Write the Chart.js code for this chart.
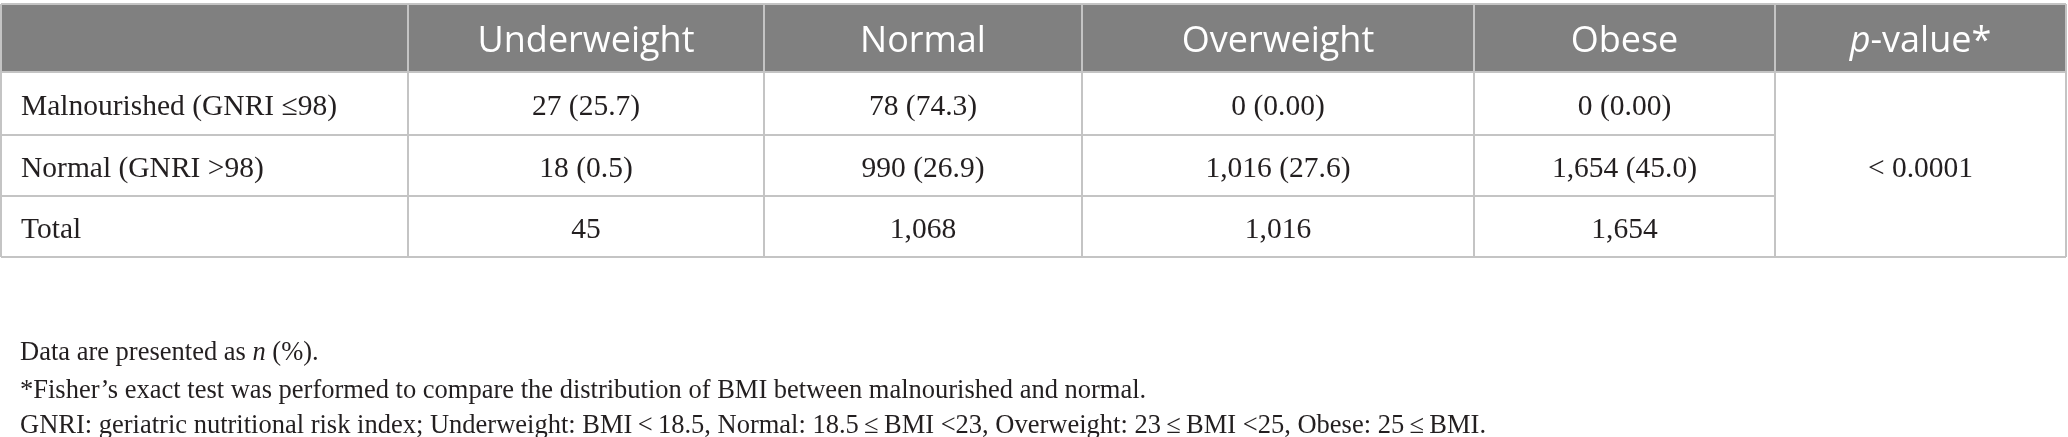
<!DOCTYPE html>
<html>
<head>
<meta charset="utf-8">
<script src="https://cdn.jsdelivr.net/npm/chart.js@4.4.1/dist/chart.umd.min.js"></script>
<style>
  html, body { margin: 0; padding: 0; background: #fff; }
  #table-chart { display: block; }
</style>
</head>
<body>
<canvas id="table-chart" width="2068" height="437"></canvas>
<script>
// table content
const bmiGroups = ['Underweight', 'Normal', 'Overweight', 'Obese'];
const rowLabels = ['Malnourished (GNRI \u226498)', 'Normal (GNRI >98)', 'Total'];
const malnourishedN = [27, 78, 0, 0];
const malnourishedPct = ['25.7', '74.3', '0.00', '0.00'];
const normalN = [18, 990, 1016, 1654];
const normalPct = ['0.5', '26.9', '27.6', '45.0'];
const totalN = [45, 1068, 1016, 1654];
const pValue = '< 0.0001';
const footnotes = [
    ['Data are presented as ', { italic: 'n' }, ' (%).'],
    ['*Fisher\u2019s exact test was performed to compare the distribution of BMI between malnourished and normal.'],
    ['GNRI: geriatric nutritional risk index; Underweight: BMI\u2009<\u200918.5, Normal: 18.5\u2009\u2264\u2009BMI <23, Overweight: 23\u2009\u2264\u2009BMI <25, Obese: 25\u2009\u2264\u2009BMI.']
];

// layout (in scale units = px of the 2068x437 frame)
const colEdges = [1, 408, 764, 1082, 1474, 1775, 2066];
const rowEdges = [4, 72, 135, 196, 257];
const footY = [353, 391, 426];
const TEXT_DY = 4;   // glyphs sit a little below the cell middle

const HEAD_FONT = '400 36px "Open Sans"';
const SERIF = 'px "Liberation Serif"';
const BODY_SIZE = 29.5;
const NOTE_SIZE = 26.5;

const fmt = n => n.toLocaleString('en-US');

function cellRows() {
    return [
        malnourishedN.map((n, i) => fmt(n) + ' (' + malnourishedPct[i] + ')'),
        normalN.map((n, i) => fmt(n) + ' (' + normalPct[i] + ')'),
        totalN.map(n => fmt(n))
    ];
}

const tablePlugin = {
    id: 'tablePlugin',
    afterDraw(chart) {
        const ctx = chart.ctx;
        const xs = chart.scales.x, ys = chart.scales.y;
        const X = v => xs.getPixelForValue(v);
        const Y = v => ys.getPixelForValue(v);
        const left = X(colEdges[0]), right = X(colEdges[colEdges.length - 1]);
        const pCol = colEdges.length - 2;
        const last = rowEdges[rowEdges.length - 1];

        ctx.save();
        // header band
        ctx.fillStyle = '#808080';
        ctx.fillRect(left, Y(rowEdges[0]), right - left, Y(rowEdges[1]) - Y(rowEdges[0]));

        // grid lines
        ctx.lineWidth = 2;
        ctx.strokeStyle = '#c4c4c4';
        ctx.beginPath();
        ctx.moveTo(left, Y(rowEdges[0])); ctx.lineTo(right, Y(rowEdges[0]));
        ctx.moveTo(left, Y(rowEdges[1])); ctx.lineTo(right, Y(rowEdges[1]));
        for (let r = 2; r < rowEdges.length - 1; r++) {
            ctx.moveTo(left, Y(rowEdges[r])); ctx.lineTo(X(colEdges[pCol]), Y(rowEdges[r]));
        }
        ctx.moveTo(left, Y(last)); ctx.lineTo(right, Y(last));
        colEdges.forEach(c => {
            ctx.moveTo(X(c), Y(rowEdges[0])); ctx.lineTo(X(c), Y(last));
        });
        ctx.stroke();

        // header text
        ctx.textBaseline = 'middle';
        ctx.textAlign = 'center';
        ctx.fillStyle = '#ffffff';
        const hy = Y((rowEdges[0] + rowEdges[1]) / 2 + TEXT_DY);
        ctx.font = HEAD_FONT;
        bmiGroups.forEach((g, i) => {
            ctx.fillText(g, X((colEdges[i + 1] + colEdges[i + 2]) / 2), hy);
        });
        // p-value* header, italic p
        const pcx = X((colEdges[pCol] + colEdges[pCol + 1]) / 2);
        ctx.font = 'italic ' + HEAD_FONT;
        const wp = ctx.measureText('p').width;
        ctx.font = HEAD_FONT;
        const wr = ctx.measureText('-value*').width;
        ctx.textAlign = 'left';
        ctx.font = 'italic ' + HEAD_FONT;
        ctx.fillText('p', pcx - (wp + wr) / 2, hy);
        ctx.font = HEAD_FONT;
        ctx.fillText('-value*', pcx - (wp + wr) / 2 + wp, hy);

        // body text
        ctx.fillStyle = '#231f20';
        ctx.font = BODY_SIZE + SERIF;
        cellRows().forEach((vals, r) => {
            const cy = Y((rowEdges[r + 1] + rowEdges[r + 2]) / 2 + TEXT_DY);
            ctx.textAlign = 'left';
            ctx.fillText(rowLabels[r], X(colEdges[0] + 20), cy);
            ctx.textAlign = 'center';
            vals.forEach((v, i) => {
                ctx.fillText(v, X((colEdges[i + 1] + colEdges[i + 2]) / 2), cy);
            });
        });
        ctx.fillText(pValue, pcx, Y((rowEdges[1] + last) / 2 + TEXT_DY + 1));

        // footnotes
        ctx.textAlign = 'left';
        footnotes.forEach((parts, k) => {
            let x = X(20);
            const y = Y(footY[k]);
            parts.forEach(p => {
                const txt = typeof p === 'string' ? p : p.italic;
                ctx.font = (typeof p === 'string' ? '' : 'italic ') + NOTE_SIZE + SERIF;
                ctx.fillText(txt, x, y);
                x += ctx.measureText(txt).width;
            });
        });
        ctx.restore();
    }
};

new Chart(document.getElementById('table-chart'), {
    type: 'scatter',
    data: { datasets: [] },
    options: {
        responsive: false,
        animation: false,
        layout: { padding: 0 },
        plugins: { legend: { display: false }, tooltip: { enabled: false } },
        scales: {
            x: { type: 'linear', min: 0, max: 2068, display: false },
            y: { type: 'linear', min: 0, max: 437, reverse: true, display: false }
        }
    },
    plugins: [tablePlugin]
});
</script>
</body>
</html>
